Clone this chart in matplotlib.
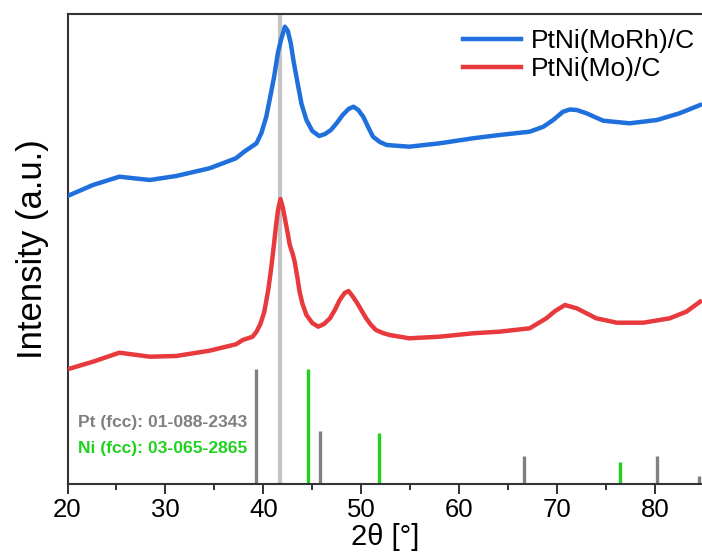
import matplotlib
matplotlib.use("Agg")
import matplotlib.pyplot as plt
from matplotlib import font_manager

# ---------------- data ----------------
two_theta_morh = [20.0, 22.6, 25.3, 28.4, 31.1, 34.5, 37.2, 38.0, 39.3, 39.8, 40.3, 40.7,
                  41.1, 41.5, 41.8, 42.2, 42.5, 42.8, 43.1, 43.5, 43.9, 44.4, 45.0, 45.7,
                  46.3, 46.9, 47.5, 48.1, 48.7, 49.2, 49.7, 50.2, 50.7, 51.2, 51.9, 52.6,
                  54.9, 58.0, 61.4, 64.1, 67.2, 68.6, 69.6, 70.6, 71.3, 72.0, 73.0, 74.7,
                  77.4, 80.2, 82.5, 84.6]
intensity_morh = [288, 299, 307.3, 304, 308, 315.7, 325.7, 332, 340.7, 351, 367.3, 387,
                  407.3, 432, 444, 457.3, 453, 440.7, 422, 400.7, 380, 364, 353, 348,
                  350, 354, 361, 369, 375, 377.3, 374, 367.3, 357, 347.3, 342, 339,
                  337.3, 340.7, 345.7, 349, 352.3, 357.3, 364, 372.3, 374.5, 374, 370.7, 363.3,
                  360.7, 364, 370.7, 379]

two_theta_mo = [20.0, 22.6, 25.3, 28.4, 31.1, 34.5, 37.2, 37.9, 38.9, 39.3, 39.7, 40.1,
                40.5, 40.8, 41.1, 41.3, 41.5, 41.75, 42.0, 42.2, 42.5, 42.7, 43.0, 43.2,
                43.5, 43.7, 44.0, 44.4, 45.0, 45.6, 46.2, 46.8, 47.3, 47.8, 48.3, 48.7,
                49.1, 49.6, 50.0, 50.5, 51.0, 51.5, 52.2, 52.9, 54.9, 58.0, 61.4, 64.1,
                67.2, 68.9, 69.8, 70.8, 72.0, 74.0, 76.1, 78.8, 81.5, 83.2, 84.6]
intensity_mo = [114.7, 122.3, 131.3, 127.3, 128, 133.3, 139.7, 144, 147.3, 152.3, 160, 172.3,
                194, 215.7, 241, 259, 274, 285, 276, 265.7, 250, 239, 230, 222.3,
                205, 192.3, 180, 169, 161, 157.3, 160, 165.7, 174, 184, 191, 193,
                188, 180.7, 174, 165.7, 159, 154, 151, 149, 145.7, 147.3, 150.7, 152.3,
                155.7, 165.7, 173, 179, 175.7, 165.7, 161.3, 161.3, 165.7, 172.3, 182.3]

pt_ref_pos = [39.3, 45.8, 66.6, 80.15, 84.5]
pt_ref_int = [100, 46, 24, 24, 7]
ni_ref_pos = [44.6, 51.8, 76.4]
ni_ref_int = [100, 44, 19]

marker_line_pos = 41.75

labels = ["PtNi(MoRh)/C", "PtNi(Mo)/C"]
pt_label = "Pt (fcc): 01-088-2343"
ni_label = "Ni (fcc): 03-065-2865"
xticks = [20, 30, 40, 50, 60, 70, 80]

# ---------------- style ----------------
names = {f.name for f in font_manager.fontManager.ttflist}
main_font = "Liberation Sans" if "Liberation Sans" in names else "DejaVu Sans"
narrow_font = "Liberation Sans Narrow" if "Liberation Sans Narrow" in names else main_font
plt.rcParams["font.family"] = [main_font, "DejaVu Sans"]

BLUE = "#1f6fdc"
RED = "#e8393d"
GREEN = "#1ed21e"
GRAY = "#808080"

fig = plt.figure(figsize=(7.02, 5.58), dpi=100)
ax = fig.add_axes([67.5 / 702, 74 / 558, 1 - 67.5 / 702, 470 / 558])

ref_scale = 1.15
ax.axvline(marker_line_pos, color="#c4c4c4", lw=3, zorder=1)
ax.vlines(pt_ref_pos, 0, [v * ref_scale for v in pt_ref_int], color=GRAY, lw=2.4, zorder=2)
ax.vlines(ni_ref_pos, 0, [v * ref_scale for v in ni_ref_int], color=GREEN, lw=2.4, zorder=2)

l1, = ax.plot(two_theta_morh, intensity_morh, color=BLUE, lw=3.2, zorder=3, label=labels[0])
l2, = ax.plot(two_theta_mo, intensity_mo, color=RED, lw=3.2, zorder=3, label=labels[1])

ax.text(21.1, 61, pt_label, color=GRAY, fontsize=12.6, fontweight="bold",
        va="center", ha="left")
ax.text(21.1, 35, ni_label, color=GREEN, fontsize=12.6, fontweight="bold",
        va="center", ha="left")

ax.set_xlim(20, 20 + (702 - 68.3) / 9.78)
ax.set_ylim(0, 470)
ax.set_yticks([])
ax.set_xticks(xticks)
ax.set_xticks([25, 35, 45, 55, 65, 75], minor=True)
ax.tick_params(axis="x", which="major", direction="out", length=7, width=1.3,
               labelsize=18.5, colors="#222222", pad=3)
ax.tick_params(axis="x", which="minor", direction="out", length=4, width=1.3,
               colors="#222222")
for lab in ax.get_xticklabels():
    lab.set_fontfamily(narrow_font)
    lab.set_color("black")

for s in ["left", "top", "bottom"]:
    ax.spines[s].set_linewidth(1.5)
    ax.spines[s].set_color("#333333")
ax.spines["right"].set_visible(False)

ax.set_xlabel("2θ [°]", fontsize=21, fontfamily=[narrow_font, "DejaVu Sans"], labelpad=1)
ax.set_ylabel("Intensity (a.u.)", fontsize=25, labelpad=13)

ax.legend(handles=[l1, l2], loc="upper right", frameon=False, fontsize=19,
          handlelength=2.2, handletextpad=0.35, labelspacing=0.15,
          borderaxespad=0.0, bbox_to_anchor=(1.005, 0.99))

fig.savefig("out.png", dpi=100)
